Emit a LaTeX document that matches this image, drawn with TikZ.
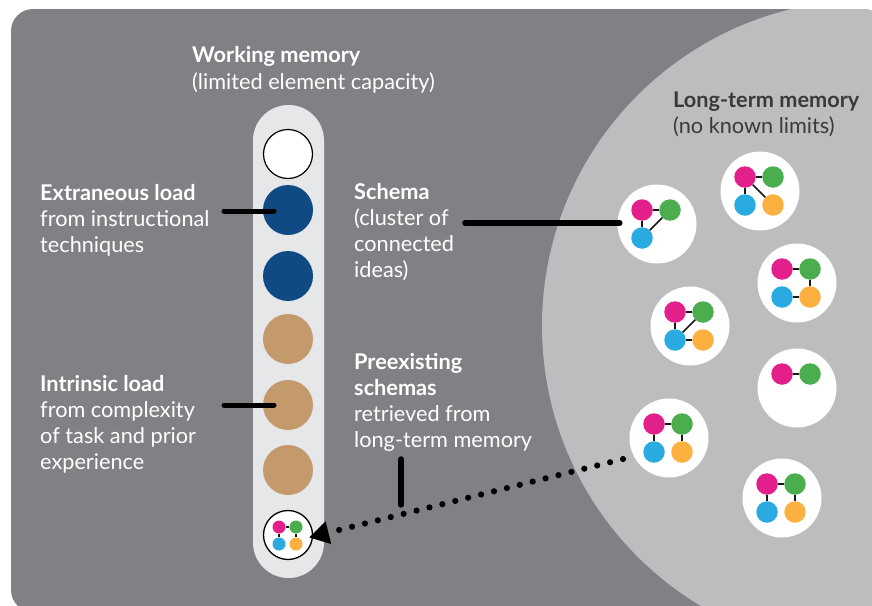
\documentclass[tikz,border=0pt]{standalone}
\usepackage{fontspec}
\setmainfont{Lato}
\usetikzlibrary{arrows.meta,calc}
\definecolor{bgdark}{HTML}{808184}
\definecolor{bglight}{HTML}{BDBDBF}
\definecolor{capsule}{HTML}{E6E7E8}
\definecolor{navy}{HTML}{0F4A85}
\definecolor{tan}{HTML}{C49A6C}
\definecolor{spink}{HTML}{E31F8C}
\definecolor{sgreen}{HTML}{4AAE4F}
\definecolor{sblue}{HTML}{29ABE2}
\definecolor{sorange}{HTML}{FBB040}
\definecolor{darktext}{HTML}{3A3A3D}
\tikzset{
  slot/.style={circle,inner sep=0pt,minimum size=50pt},
  holder/.style={circle,fill=white,inner sep=0pt,minimum size=79pt},
  idea/.style={circle,inner sep=0pt,minimum size=21.5pt},
  miniidea/.style={circle,inner sep=0pt,minimum size=13pt},
  link/.style={draw=black!90,line width=1.5pt},
  minilink/.style={draw=black!90,line width=1.1pt},
  label/.style={anchor=north west,inner sep=0pt,align=left,text=white,font=\fontsize{21.7}{26}\selectfont},
  pointer/.style={line width=5pt,line cap=round,draw=black},
  heavy/.style={line width=5.4pt,line cap=round,draw=black}
}
\newcommand{\schemaA}[4]{%
  \node[holder] (#1) at (#2,#3) {};
  \node[idea,fill=spink] (#1p) at (#2-15,#3-14) {};
  \node[idea,fill=sgreen] (#1g) at (#2+13,#3-14) {};
  \node[idea,fill=sblue] (#1b) at (#2-15,#3+14) {};
  \foreach \u/\v in {#4} {\draw[link] (#1\u) -- (#1\v);}
}
\newcommand{\schemaF}[4]{%
  \node[holder] (#1) at (#2,#3) {};
  \node[idea,fill=spink] (#1p) at (#2-15,#3-14) {};
  \node[idea,fill=sgreen] (#1g) at (#2+13,#3-14) {};
  \node[idea,fill=sblue] (#1b) at (#2-15,#3+14) {};
  \node[idea,fill=sorange] (#1o) at (#2+13,#3+14) {};
  \foreach \u/\v in {#4} {\draw[link] (#1\u) -- (#1\v);}
}
\begin{document}
\begin{tikzpicture}[x=1pt,y=-1pt]
\useasboundingbox (0,0) rectangle (872,605);
\begin{scope}
  \clip (0,0) rectangle (872,605);
  \clip[rounded corners=22pt] (11,9) rectangle (885,612);
  \fill[bgdark] (0,0) rectangle (885,612);
  \fill[bglight] (868,326) circle[radius=326pt];
\end{scope}
% capsule
\fill[capsule,rounded corners=35.5pt] (253,105) rectangle (324,578);
\node[slot,fill=white,draw=black,line width=1.2pt,minimum size=49pt] (s1) at (288,154) {};
\node[slot,fill=navy] (s2) at (288,210) {};
\node[slot,fill=navy] (s3) at (288,276) {};
\node[slot,fill=tan] (s4) at (288,339) {};
\node[slot,fill=tan] (s5) at (288,405) {};
\node[slot,fill=tan] (s6) at (288,470) {};
\node[slot,fill=white,draw=black,line width=1.3pt,minimum size=49pt] (s7) at (288,535) {};
\node[miniidea,fill=spink] (mp) at (279,527) {};
\node[miniidea,fill=sgreen] (mg) at (296,527) {};
\node[miniidea,fill=sblue] (mb) at (279,544) {};
\node[miniidea,fill=sorange] (mo) at (296,544) {};
\draw[minilink] (mp)--(mg);
\draw[minilink] (mp)--(mb);
\draw[minilink] (mg)--(mo);
% schemas
\schemaA{a}{657}{224}{p/g,p/b,b/g}
\schemaF{b}{760}{191}{p/g,p/b,p/o}
\schemaF{c}{797}{283}{p/g,g/o,b/o}
\schemaF{d}{690}{326}{p/g,p/b,b/g,b/o}
\node[holder] (e) at (797,388) {};
\node[idea,fill=spink] (ep) at (782,374) {};
\node[idea,fill=sgreen] (eg) at (810,374) {};
\draw[link] (ep)--(eg);
\schemaF{f}{669}{438}{p/g,p/b,g/o}
\schemaF{h}{782}{498}{p/g,p/b,g/o}
% text
\node[label,font=\fontsize{21.7}{27.5}\selectfont] (twm) at (192,46) {\textbf{Working memory}\\(limited element capacity)};
\node[label,text=darktext,font=\fontsize{21.7}{25.5}\selectfont] (tlt) at (673,92) {\textbf{Long-term memory}\\(no known limits)};
\node[label] (tex) at (40,184) {\textbf{Extraneous load}\\from instructional\\techniques};
\node[label] (tin) at (40,375) {\textbf{Intrinsic load}\\from complexity\\of task and prior\\experience};
\node[label] (tsc) at (354,183) {\textbf{Schema}\\(cluster of\\connected\\ideas)};
\node[label] (tpr) at (354,353) {\textbf{Preexisting}\\\textbf{schemas}\\retrieved from\\long-term memory};
% connectors
\coordinate (exend) at (224,211);
\coordinate (inend) at (224,405);
\coordinate (scend) at (465,223);
\coordinate (prtop) at (401,459);
\coordinate (prbot) at (401,505);
\coordinate (dotstart) at (623,459);
\coordinate (dottip) at (309,537.5);
\draw[pointer] (exend) -- ($(exend)+(50,0)$);
\draw[pointer] (inend) -- ($(inend)+(50,0)$);
\draw[heavy,shorten >=-2.5pt] (scend) -- (a.west |- scend);
\draw[heavy] (prtop) -- (prbot);
\draw[line width=6.2pt,line cap=round,dash pattern=on 0pt off 13.3pt,-{Triangle[length=20pt,width=22pt]}] (dotstart) -- (dottip);
\end{tikzpicture}
\end{document}
